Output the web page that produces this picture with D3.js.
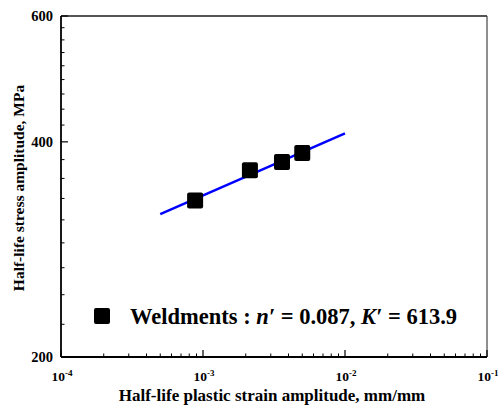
<!DOCTYPE html>
<html>
<head>
<meta charset="utf-8">
<script src="https://cdn.jsdelivr.net/npm/d3@7/dist/d3.min.js"></script>
<style>
  body { margin: 0; background: #fff; }
</style>
</head>
<body>
<div id="chart"></div>
<script>
// data
var strain = [0.00088, 0.00214, 0.0036, 0.0050];
var stress = [331, 365, 375, 386];

// fitted line end points (n' = 0.087, K' = 613.9)
var fitStrain = [0.0005, 0.01];
var fitStress = [317, 411];

var xTicks = [1e-4, 1e-3, 1e-2, 1e-1];
var xTickExp = ["-4", "-3", "-2", "-1"];
var yTicks = [200, 400, 600];

var serif = "'Liberation Serif', 'Times New Roman', Times, 'DejaVu Serif', serif";

var margin = {top: 16, bottom: 55, left: 61, right: 13},
  width = 500 - margin.left - margin.right,
  height = 412 - margin.top - margin.bottom;

var svg = d3.select("#chart")
    .append("svg")
    .attr("width", 500)
    .attr("height", 412)
    .style("font-family", serif)
    .style("font-weight", "bold");

var g = svg.append("g")
    .attr("transform", "translate(" + margin.left + "," + margin.top + ")");

var x = d3.scaleLog().domain([1e-4, 1e-1]).range([0, width]);
var y = d3.scaleLog().domain([200, 600]).range([height, 0]);

// minor ticks on x: 2..9 in each decade
var xMinor = [];
xTicks.slice(0, 3).forEach(function(t) {
  for (var k = 2; k <= 9; k++) xMinor.push(t * k);
});

// minor ticks on y: 8 per major interval, linear in value
var yMinor = [];
for (var i = 0; i < yTicks.length - 1; i++) {
  for (var k = 1; k <= 8; k++) yMinor.push(yTicks[i] + (yTicks[i + 1] - yTicks[i]) * k / 9);
}

// frame: top and right in grey
g.append("line").attr("x1", 0).attr("x2", width).attr("y1", 0).attr("y2", 0)
  .attr("stroke", "#555").attr("stroke-width", 2);
g.append("line").attr("x1", width).attr("x2", width).attr("y1", 0).attr("y2", height)
  .attr("stroke", "#444").attr("stroke-width", 1.2);

// x axis, ticks pointing inward
var xAxis = g.append("g").attr("transform", "translate(0," + height + ")");
xAxis.append("line").attr("x1", 0).attr("x2", width).attr("stroke", "#000").attr("stroke-width", 1.8);
xAxis.selectAll(".minor").data(xMinor).enter().append("line")
  .attr("x1", function(d) { return x(d); }).attr("x2", function(d) { return x(d); })
  .attr("y1", 0).attr("y2", -3.5).attr("stroke", "#000").attr("stroke-width", 1);
xAxis.selectAll(".major").data(xTicks).enter().append("line")
  .attr("x1", function(d) { return x(d); }).attr("x2", function(d) { return x(d); })
  .attr("y1", 0).attr("y2", -7).attr("stroke", "#000").attr("stroke-width", 1.2);

var xLab = xAxis.selectAll(".lab").data(xTicks).enter().append("text")
  .attr("x", function(d) { return x(d) + 1; })
  .attr("y", 24)
  .attr("text-anchor", "middle")
  .attr("fill", "#000")
  .style("font-size", "13.5px");
xLab.append("tspan").text("10");
xLab.append("tspan").attr("dy", -5).style("font-size", "9px")
  .text(function(d, i) { return xTickExp[i]; });

// y axis, ticks pointing inward
var yAxis = g.append("g");
yAxis.append("line").attr("y1", 0).attr("y2", height).attr("stroke", "#000").attr("stroke-width", 1.8);
yAxis.selectAll(".minor").data(yMinor).enter().append("line")
  .attr("y1", function(d) { return y(d); }).attr("y2", function(d) { return y(d); })
  .attr("x1", 0).attr("x2", 3.5).attr("stroke", "#000").attr("stroke-width", 1);
yAxis.selectAll(".major").data(yTicks).enter().append("line")
  .attr("y1", function(d) { return y(d); }).attr("y2", function(d) { return y(d); })
  .attr("x1", 0).attr("x2", 7).attr("stroke", "#000").attr("stroke-width", 1.2);
yAxis.selectAll(".lab").data(yTicks).enter().append("text")
  .attr("x", -8)
  .attr("y", function(d) { return y(d); })
  .attr("dy", "0.35em")
  .attr("text-anchor", "end")
  .style("font-size", "14.5px")
  .text(function(d) { return d; });

// axis titles
svg.append("text")
  .attr("x", 272)
  .attr("y", 401)
  .attr("text-anchor", "middle")
  .style("font-size", "17px")
  .text("Half-life plastic strain amplitude, mm/mm");

svg.append("text")
  .attr("transform", "translate(24," + 188 + ") rotate(-90)")
  .attr("text-anchor", "middle")
  .style("font-size", "15.5px")
  .text("Half-life stress amplitude, MPa");

// fit line
var line = d3.line()
  .x(function(d) { return x(d[0]); })
  .y(function(d) { return y(d[1]); });

g.append("path")
  .datum(d3.zip(fitStrain, fitStress))
  .attr("d", line)
  .attr("fill", "none")
  .attr("stroke", "#0000ff")
  .attr("stroke-width", 2.5);

// data squares
var s = 16;
g.selectAll(".pt").data(d3.zip(strain, stress)).enter().append("rect")
  .attr("x", function(d) { return x(d[0]) - s / 2; })
  .attr("y", function(d) { return y(d[1]) - s / 2; })
  .attr("width", s).attr("height", s)
  .attr("rx", 2)
  .attr("fill", "#000");

// legend
svg.append("rect")
  .attr("x", 94).attr("y", 308).attr("width", s).attr("height", s).attr("rx", 2)
  .attr("fill", "#000");

var leg = svg.append("text")
  .attr("x", 130)
  .attr("y", 324)
  .style("font-size", "22.5px");
leg.append("tspan").text("Weldments : ");
leg.append("tspan").style("font-style", "italic").text("n\u2032");
leg.append("tspan").text(" = 0.087, ");
leg.append("tspan").style("font-style", "italic").text("K\u2032");
leg.append("tspan").text(" = 613.9");
</script>
</body>
</html>
